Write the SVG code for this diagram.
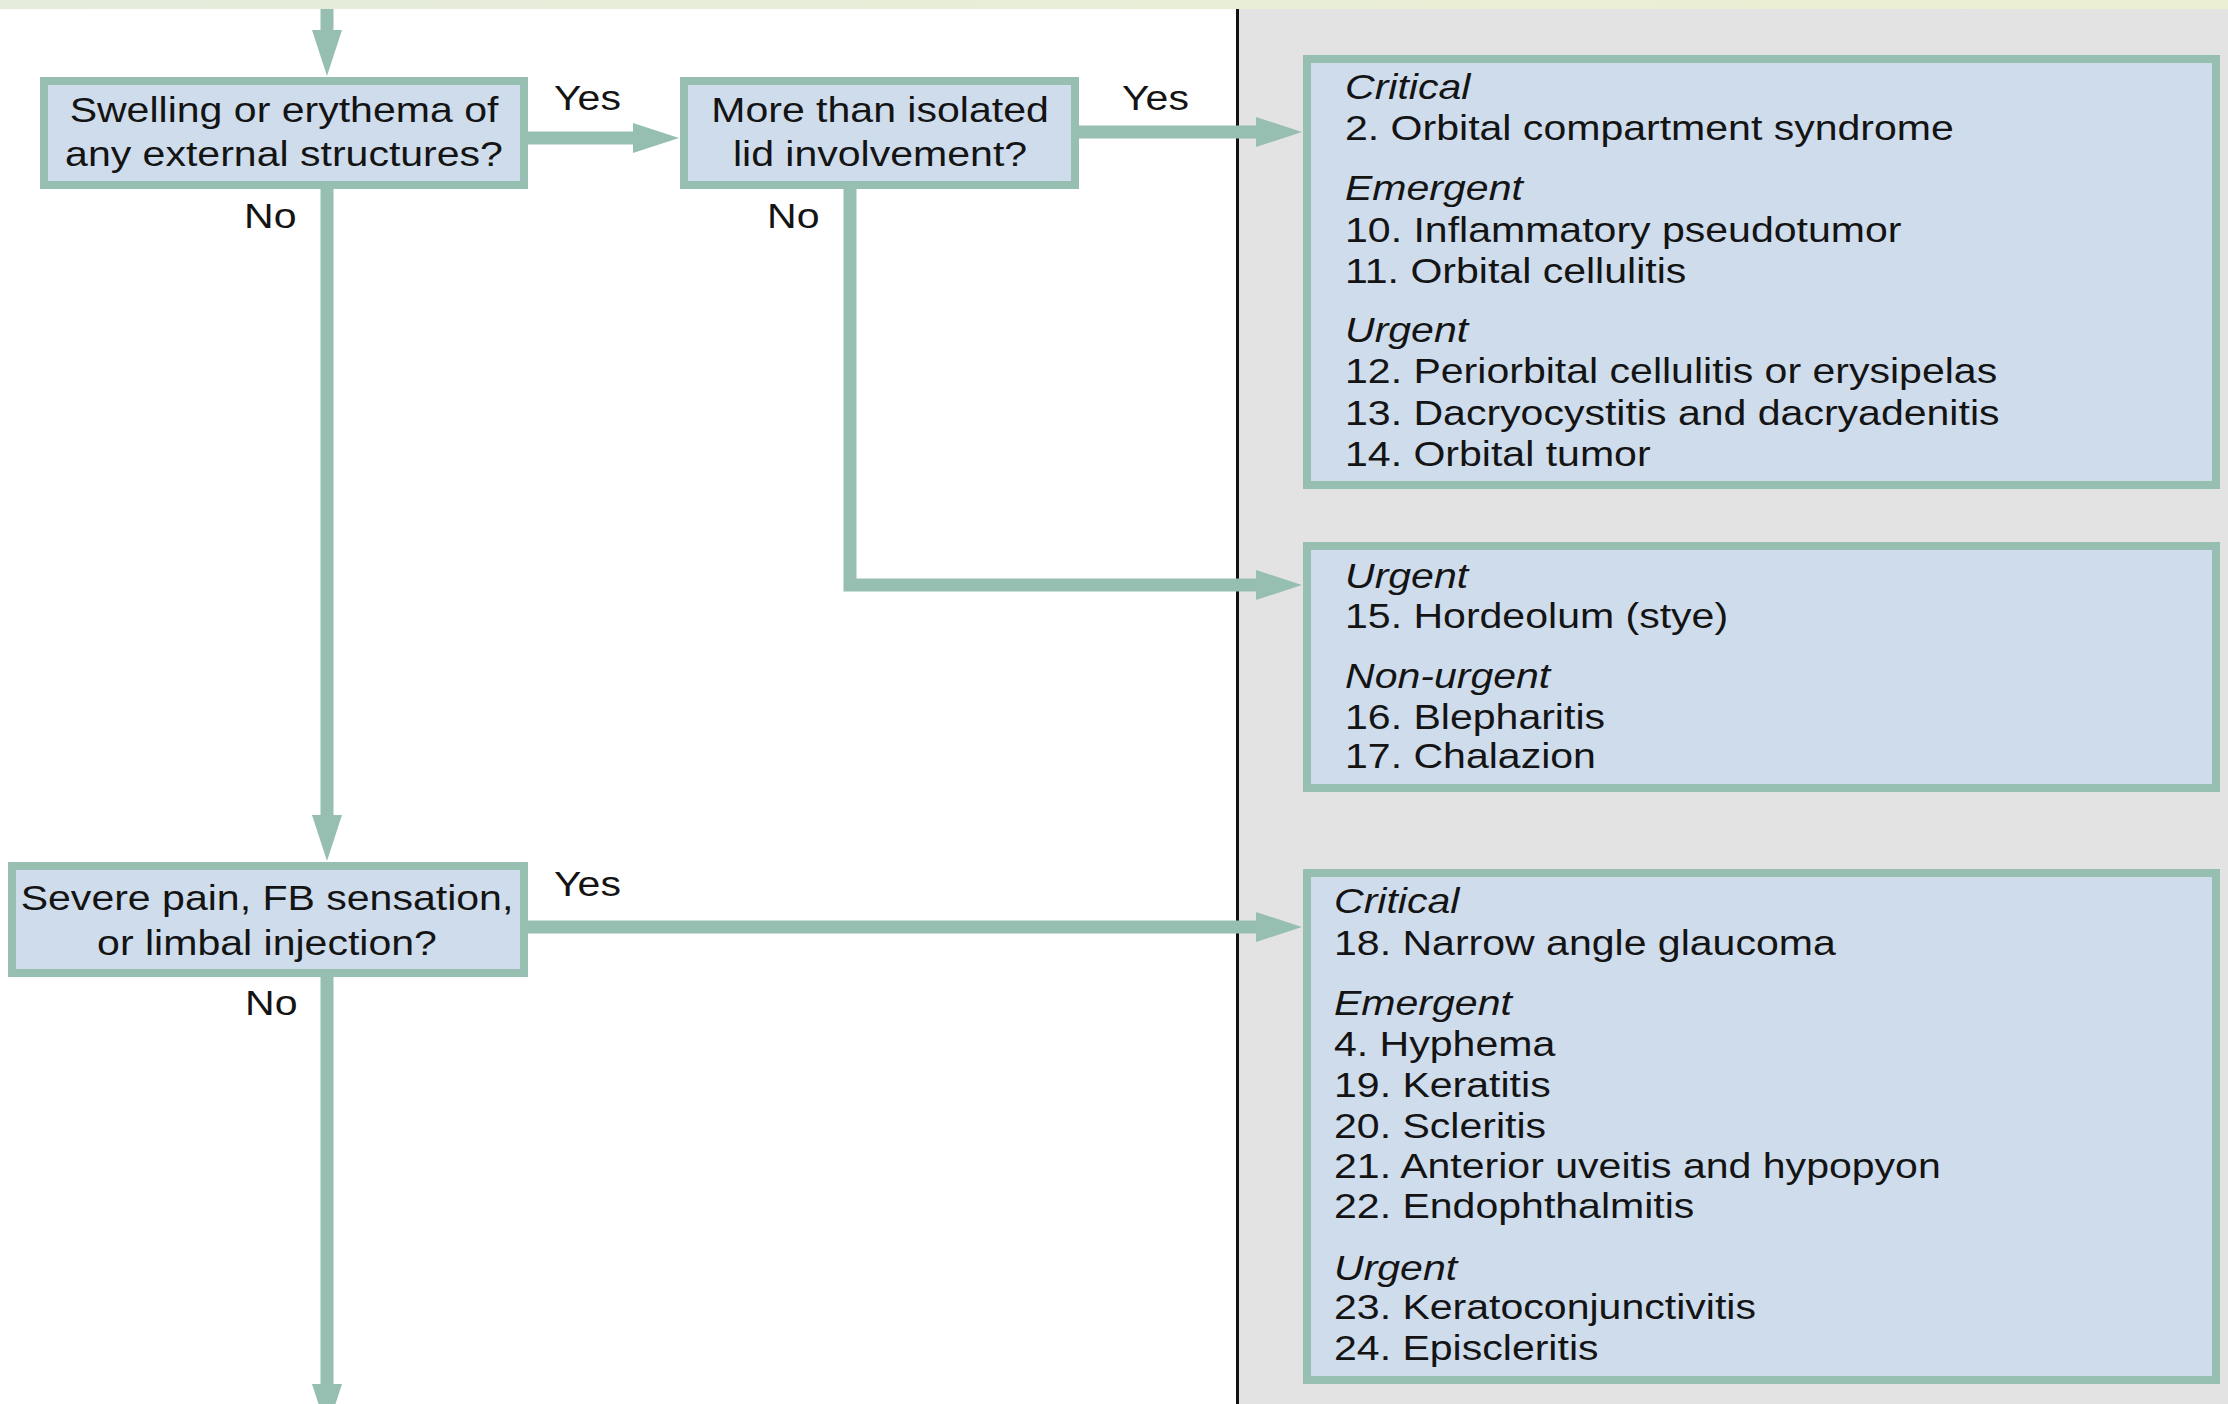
<svg xmlns="http://www.w3.org/2000/svg" width="2228" height="1404" viewBox="0 0 2228 1404">
<defs>
<linearGradient id="band" x1="0" y1="0" x2="1" y2="0">
<stop offset="0" stop-color="#e4ebdb"/>
<stop offset="1" stop-color="#ecf0d2"/>
</linearGradient>
<marker id="ah" markerUnits="userSpaceOnUse" markerWidth="46" markerHeight="30" refX="0" refY="15" orient="auto" overflow="visible">
<path d="M0,0 L46,15 L0,30 z" fill="#96bfb1"/>
</marker>
<style>
.box{fill:#cfdcec;stroke:#96bfb1;stroke-width:8}
.con{fill:none;stroke:#96bfb1;stroke-width:13;stroke-linejoin:miter;stroke-linecap:butt}
.t{font-family:"Liberation Sans",Arial,Helvetica,sans-serif;font-size:36px;fill:#141414}
.c{text-anchor:middle}
.i{font-style:italic}
</style>
</defs>
<rect x="0" y="0" width="2228" height="1404" fill="#ffffff"/>
<rect x="1238" y="9" width="990" height="1395" fill="#e3e3e3"/>
<rect x="0" y="0" width="2228" height="9" fill="url(#band)"/>
<rect x="1236" y="9" width="3" height="1395" fill="#111111"/>

<g id="connectors">
<line class="con" x1="327" y1="9" x2="327" y2="30" marker-end="url(#ah)"/>
<line class="con" x1="528" y1="138" x2="633" y2="138" marker-end="url(#ah)"/>
<line class="con" x1="1079" y1="132" x2="1256" y2="132" marker-end="url(#ah)"/>
<line class="con" x1="327" y1="189" x2="327" y2="815" marker-end="url(#ah)"/>
<polyline class="con" points="850,189 850,585 1256,585" marker-end="url(#ah)"/>
<line class="con" x1="528" y1="927" x2="1256" y2="927" marker-end="url(#ah)"/>
<line class="con" x1="327" y1="977" x2="327" y2="1384" marker-end="url(#ah)"/>
</g>

<g id="labels">
<g transform="translate(554,0) scale(1.14,1)"><text class="t" x="0" y="110">Yes</text></g>
<g transform="translate(1122,0) scale(1.14,1)"><text class="t" x="0" y="110">Yes</text></g>
<g transform="translate(244,0) scale(1.14,1)"><text class="t" x="0" y="228">No</text></g>
<g transform="translate(767,0) scale(1.14,1)"><text class="t" x="0" y="228">No</text></g>
<g transform="translate(554,0) scale(1.14,1)"><text class="t" x="0" y="896">Yes</text></g>
<g transform="translate(245,0) scale(1.14,1)"><text class="t" x="0" y="1015">No</text></g>
</g>

<g id="q-swelling">
<rect class="box" x="44" y="81" width="480" height="104"/>
<g transform="translate(284,0) scale(1.14,1)">
<text class="t c" x="0" y="122">Swelling or erythema of</text>
<text class="t c" x="0" y="166">any external structures?</text>
</g>
</g>

<g id="q-lid">
<rect class="box" x="684" y="81" width="391" height="104"/>
<g transform="translate(880,0) scale(1.14,1)">
<text class="t c" x="0" y="122">More than isolated</text>
<text class="t c" x="0" y="166">lid involvement?</text>
</g>
</g>

<g id="q-pain">
<rect class="box" x="12" y="866" width="512" height="107"/>
<g transform="translate(267,0) scale(1.14,1)">
<text class="t c" x="0" y="910">Severe pain, FB sensation,</text>
<text class="t c" x="0" y="955">or limbal injection?</text>
</g>
</g>

<g id="dx-orbital">
<rect class="box" x="1307" y="59" width="909" height="426"/>
<g transform="translate(1345,0) scale(1.14,1)">
<text class="t i" x="0" y="99">Critical</text>
<text class="t" x="0" y="140">2. Orbital compartment syndrome</text>
<text class="t i" x="0" y="200">Emergent</text>
<text class="t" x="0" y="242">10. Inflammatory pseudotumor</text>
<text class="t" x="0" y="283">11. Orbital cellulitis</text>
<text class="t i" x="0" y="342">Urgent</text>
<text class="t" x="0" y="383">12. Periorbital cellulitis or erysipelas</text>
<text class="t" x="0" y="425">13. Dacryocystitis and dacryadenitis</text>
<text class="t" x="0" y="466">14. Orbital tumor</text>
</g>
</g>

<g id="dx-lid">
<rect class="box" x="1307" y="546" width="909" height="242"/>
<g transform="translate(1345,0) scale(1.14,1)">
<text class="t i" x="0" y="588">Urgent</text>
<text class="t" x="0" y="628">15. Hordeolum (stye)</text>
<text class="t i" x="0" y="688">Non-urgent</text>
<text class="t" x="0" y="729">16. Blepharitis</text>
<text class="t" x="0" y="768">17. Chalazion</text>
</g>
</g>

<g id="dx-pain">
<rect class="box" x="1307" y="873" width="909" height="507"/>
<g transform="translate(1334,0) scale(1.14,1)">
<text class="t i" x="0" y="913">Critical</text>
<text class="t" x="0" y="955">18. Narrow angle glaucoma</text>
<text class="t i" x="0" y="1015">Emergent</text>
<text class="t" x="0" y="1056">4. Hyphema</text>
<text class="t" x="0" y="1097">19. Keratitis</text>
<text class="t" x="0" y="1138">20. Scleritis</text>
<text class="t" x="0" y="1178">21. Anterior uveitis and hypopyon</text>
<text class="t" x="0" y="1218">22. Endophthalmitis</text>
<text class="t i" x="0" y="1280">Urgent</text>
<text class="t" x="0" y="1319">23. Keratoconjunctivitis</text>
<text class="t" x="0" y="1360">24. Episcleritis</text>
</g>
</g>
</svg>
